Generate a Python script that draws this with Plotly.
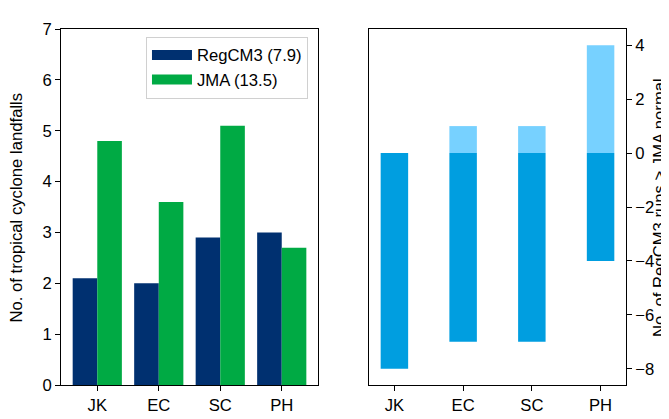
import plotly.graph_objects as go
from plotly.subplots import make_subplots

regions = ["JK", "EC", "SC", "PH"]
regcm3 = [2.1, 2.0, 2.9, 3.0]
jma = [4.8, 3.6, 5.1, 2.7]
runs_above = [0, 1, 1, 4]
runs_below = [-8, -7, -7, -4]
legend_names = ["RegCM3 (7.9)", "JMA (13.5)"]

C_REG = "#003070"
C_JMA = "#00AA44"
FONT = "Liberation Sans, Arial, sans-serif"
FS = 16.67

fig = make_subplots(rows=1, cols=2, horizontal_spacing=0.0902)

fig.add_trace(go.Bar(x=regions, y=regcm3, name=legend_names[0], marker_color=C_REG,
                     marker_line_width=0, width=0.4, offset=-0.4, showlegend=False), row=1, col=1)
fig.add_trace(go.Bar(x=regions, y=jma, name=legend_names[1], marker_color=C_JMA,
                     marker_line_width=0, width=0.4, offset=0.0, showlegend=False), row=1, col=1)
# legend handles (wide rectangles like the original)
for nm, col in zip(legend_names, [C_REG, C_JMA]):
    fig.add_trace(go.Scatter(x=[None], y=[None], mode="lines", name=nm,
                             line=dict(color=col, width=12)), row=1, col=1)
fig.add_trace(go.Bar(x=regions, y=runs_above, showlegend=False, marker_color="#77D1FF",
                     marker_line_width=0, width=0.4, offset=-0.2), row=1, col=2)
fig.add_trace(go.Bar(x=regions, y=runs_below, showlegend=False, marker_color="#009EE0",
                     marker_line_width=0, width=0.4, offset=-0.2), row=1, col=2)

axis_common = dict(showline=True, linecolor="black", linewidth=1, mirror=True,
                   ticks="outside", ticklen=5, tickcolor="black", tickwidth=1,
                   showgrid=False, zeroline=False,
                   tickfont=dict(family=FONT, size=FS, color="black"))

fig.update_xaxes(**axis_common)
fig.update_yaxes(**axis_common)
fig.update_xaxes(range=[-0.59, 3.59], row=1, col=1)
fig.update_xaxes(range=[-0.37, 3.37], row=1, col=2)
fig.update_yaxes(range=[0, 7], dtick=1, row=1, col=1)
fig.update_yaxes(range=[-8.6, 4.6], dtick=2, side="right", row=1, col=2)

fig.add_annotation(text="No. of tropical cyclone landfalls", xref="paper", yref="paper",
                   x=-0.0788, y=0.5, xanchor="center", yanchor="middle", textangle=-90,
                   showarrow=False, font=dict(family=FONT, size=FS, color="black"))
fig.add_annotation(text="No. of RegCM3 runs > JMA normal", xref="paper", yref="paper",
                   x=1.0584, y=0.5, xanchor="center", yanchor="middle", textangle=-90,
                   showarrow=False, font=dict(family=FONT, size=FS, color="black"))

fig.update_layout(
    width=669, height=419,
    margin=dict(l=53, r=51, t=18, b=27),
    plot_bgcolor="white", paper_bgcolor="white",
    barmode="overlay",
    font=dict(family=FONT, size=FS, color="black"),
    legend=dict(x=0.1504, y=0.9786, xanchor="left", yanchor="top",
                bordercolor="#d0d0d0", borderwidth=1, bgcolor="rgba(255,255,255,0.8)",
                font=dict(family=FONT, size=FS, color="black"),
                itemwidth=40),
)
fig.write_html("out.html")
